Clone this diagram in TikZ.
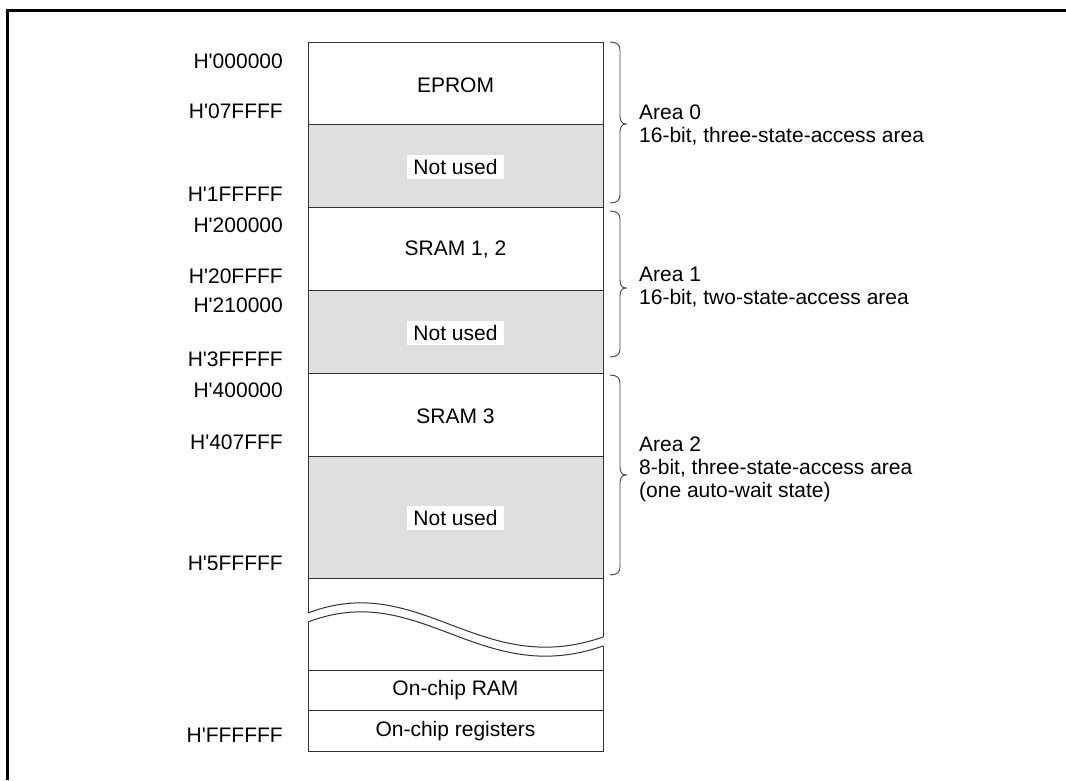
\documentclass[tikz,border=0pt]{standalone}
\usepackage{fontspec}
\setmainfont{Liberation Sans}
\newcommand{\hq}{H\textquotesingle}
\begin{document}
\begin{tikzpicture}[x=1pt,y=-1pt,
  font=\fontsize{21}{23}\selectfont,
  blk/.style={draw=black!80, line width=1pt, minimum width=295pt, inner sep=0pt, outer sep=0pt},
  usedblk/.style={blk, fill=white},
  freeblk/.style={blk, fill=gray!25},
  lbl/.style={fill=white, inner xsep=6pt, inner ysep=4pt},
  addr/.style={anchor=east, inner sep=0pt},
  area/.style={anchor=west, align=left, inner sep=0pt},
  brc/.style={draw=black!75, line width=0.9pt},
  frame/.style={draw=black, line width=3pt}]
\useasboundingbox (0,0) rectangle (1066,780);
% outer frame
\draw[frame] (7,780) -- (7,10) -- (1066,10);
% blocks
\node[usedblk, minimum height=82pt] (eprom) at (455.5,83) {};
\node[freeblk, minimum height=83pt] (nu0) at (455.5,165.5) {};
\node[usedblk, minimum height=83pt] (sram12) at (455.5,248.5) {};
\node[freeblk, minimum height=83pt] (nu1) at (455.5,331.5) {};
\node[usedblk, minimum height=83pt] (sram3) at (455.5,414.5) {};
\node[freeblk, minimum height=122pt] (nu2) at (455.5,517) {};
\node[usedblk, minimum height=40pt] (ram) at (455.5,690) {};
\node[usedblk, minimum height=41pt] (regs) at (455.5,730.5) {};
% block texts
\node (teprom) at (455.5,85) {EPROM};
\node[lbl] (tnu0) at (455.5,167) {Not used};
\node (tsram12) at (455.5,250) {SRAM 1, 2};
\node[lbl] (tnu1) at (455.5,333) {Not used};
\node (tsram3) at (455.5,416) {SRAM 3};
\node[lbl] (tnu2) at (455.5,518) {Not used};
\node (tram) at (455.5,690) {On-chip RAM};
\node (tregs) at (455.5,731) {On-chip registers};
% break region
\coordinate (bl1) at (308,613);
\coordinate (br1) at (603,637);
\coordinate (bl2) at (308,622);
\coordinate (br2) at (603,646);
\fill[white] (308,578) rectangle (603,670);
\draw[blk] (bl1) -- (308,578) -- (603,578) -- (br1);
\draw[blk] (bl1) .. controls (420,570) and (480,680) .. (br1);
\draw[blk] (bl2) .. controls (420,579) and (480,689) .. (br2);
\draw[blk] (bl2) -- (308,670) -- (603,670) -- (br2);
% addresses
\node[addr] (a0) at (283,61) {\hq000000};
\node[addr] (a1) at (283,111) {\hq07FFFF};
\node[addr] (a2) at (283,194) {\hq1FFFFF};
\node[addr] (a3) at (283,225) {\hq200000};
\node[addr] (a4) at (283,276) {\hq20FFFF};
\node[addr] (a5) at (283,305) {\hq210000};
\node[addr] (a6) at (283,359) {\hq3FFFFF};
\node[addr] (a7) at (283,390) {\hq400000};
\node[addr] (a8) at (283,442) {\hq407FFF};
\node[addr] (a9) at (283,563) {\hq5FFFFF};
\node[addr] (a10) at (283,735) {\hq FFFFFF};
% braces
\draw[brc] (610,42) .. controls (617,42) and (620,45) .. (620,50) -- (620,116)
  .. controls (620,121) and (622,124) .. (626,124)
  .. controls (622,124) and (620,127) .. (620,132) -- (620,195)
  .. controls (620,200) and (617,203) .. (610,203);
\draw[brc] (610,211) .. controls (617,211) and (620,214) .. (620,219) -- (620,280)
  .. controls (620,285) and (622,288) .. (626,288)
  .. controls (622,288) and (620,291) .. (620,296) -- (620,349)
  .. controls (620,354) and (617,357) .. (610,357);
\draw[brc] (610,375) .. controls (617,375) and (620,378) .. (620,383) -- (620,467)
  .. controls (620,472) and (622,475) .. (626,475)
  .. controls (622,475) and (620,478) .. (620,483) -- (620,567)
  .. controls (620,572) and (617,575) .. (610,575);
% area texts
\node[area] (ar0) at (639,125) {Area 0\\16-bit, three-state-access area};
\node[area] (ar1) at (639,287) {Area 1\\16-bit, two-state-access area};
\node[area] (ar2) at (639,469.5) {Area 2\\8-bit, three-state-access area\\(one auto-wait state)};
\end{tikzpicture}
\end{document}
